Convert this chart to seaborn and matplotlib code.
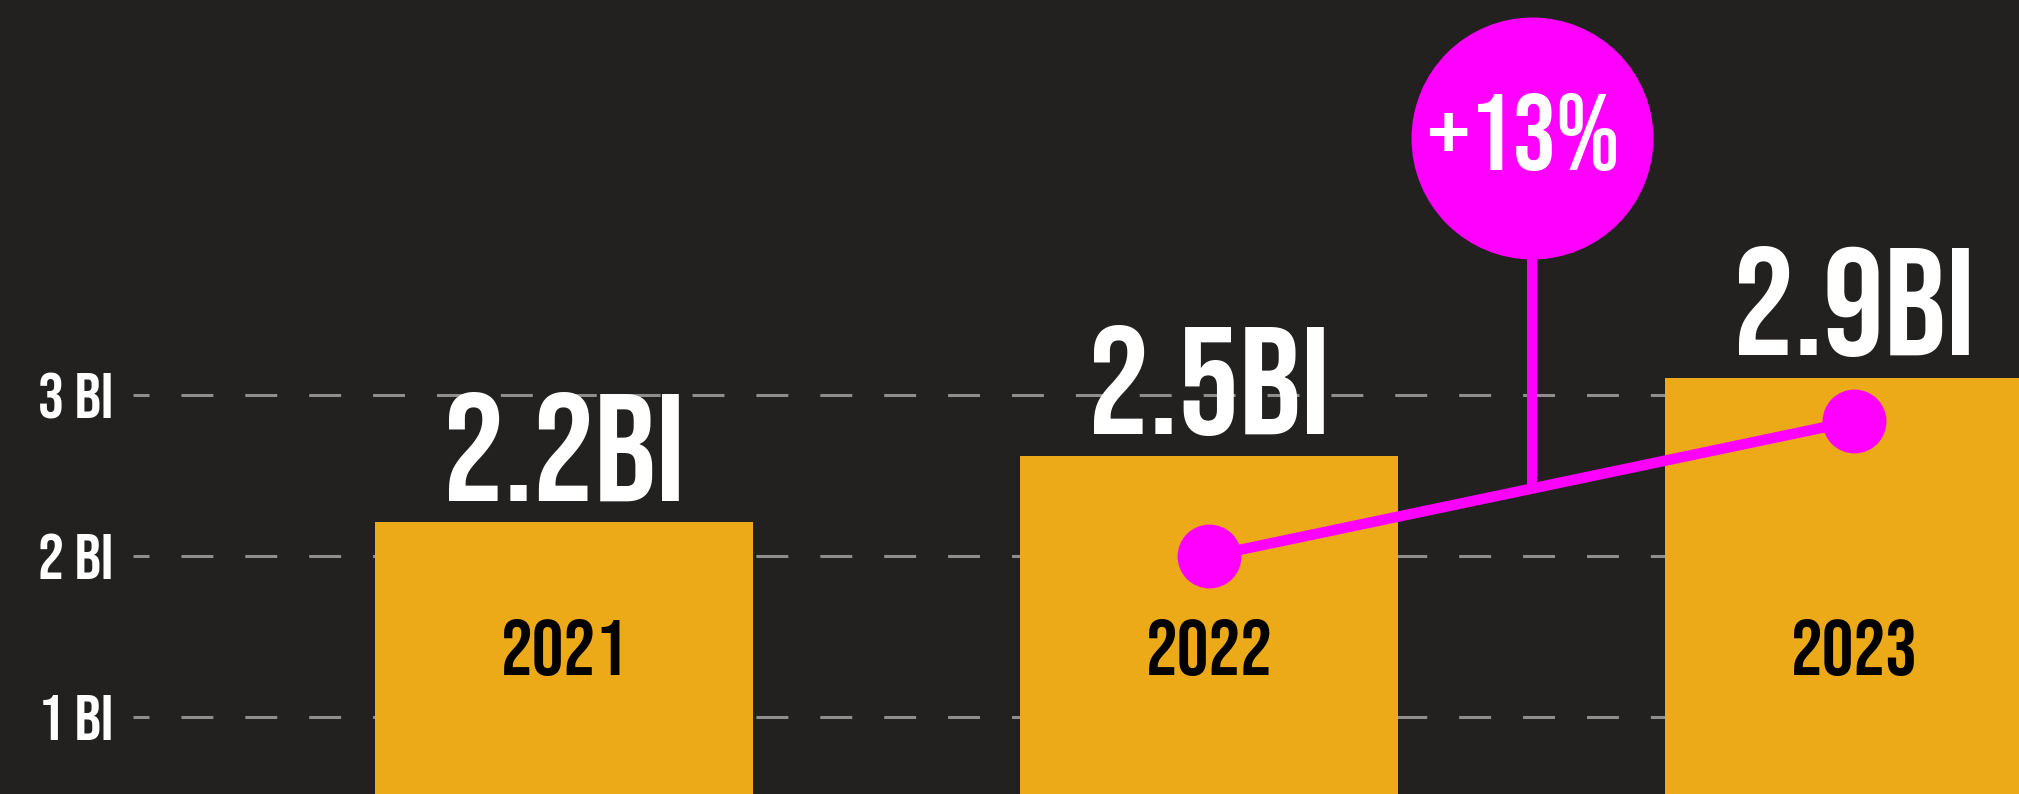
import matplotlib
matplotlib.use("Agg")
import matplotlib.pyplot as plt
import seaborn as sns
from matplotlib import font_manager

# data
years = ["2021", "2022", "2023"]
bar_values = [2.21, 2.62, 3.11]
bar_labels = ["2.2BI", "2.5BI", "2.9BI"]
line_years = [1, 2]
line_values = [2.0, 2.84]
growth_label = "+13%"
tick_values = [1, 2, 3]
tick_labels = ["1 BI", "2 BI", "3 BI"]

BG = "#22211f"
BAR = "#edaa18"
MAGENTA = "#ff00ff"
GRID = "#8e8e8e"

installed = {f.name for f in font_manager.fontManager.ttflist}
font = "DejaVu Sans"
for cand in ["Bebas Neue", "Oswald", "Barlow Condensed", "Archivo Narrow"]:
    if cand in installed:
        font = cand
        break

sns.set_theme(style="dark")
plt.rcParams["font.family"] = [font, "DejaVu Sans"]
plt.rcParams["lines.scale_dashes"] = False

fig = plt.figure(figsize=(20.19, 7.94), dpi=100)
fig.patch.set_facecolor(BG)
ax = fig.add_axes([133 / 2019, 0, 1 - 133 / 2019, 1])
ax.set_facecolor(BG)

sns.barplot(x=years, y=bar_values, color=BAR, saturation=1, width=0.586, ax=ax,
            edgecolor=BAR, linewidth=0, zorder=2)

# dashed grid
for t in tick_values:
    ax.axhline(t, color=GRID, lw=2.2, linestyle=(11.5, (23, 23)), zorder=1)

# value labels above bars
for i, (v, lab) in enumerate(zip(bar_values, bar_labels)):
    ax.annotate(lab, (i, v), xytext=(0, 16), textcoords="offset points",
                ha="center", va="baseline", color="white", fontsize=110, zorder=3)

# year labels inside bars
for i, y in enumerate(years):
    ax.text(i, 0.15, y, transform=ax.get_xaxis_transform(), ha="center", va="baseline",
            color="black", fontsize=57, zorder=3)

# growth line
sns.lineplot(x=line_years, y=line_values, color=MAGENTA, lw=7.6, marker="o",
             markersize=46, markeredgewidth=0, ax=ax, zorder=5)

# bubble with stem
mid_x = sum(line_years) / 2
mid_y = sum(line_values) / 2
bubble_y = 4.6
ax.plot([mid_x, mid_x], [mid_y, bubble_y], color=MAGENTA, lw=7.2, zorder=5,
        solid_capstyle="butt")
ax.scatter([mid_x], [bubble_y], s=30350, color=MAGENTA, linewidths=0, zorder=6)
ax.text(mid_x - 0.014, bubble_y + 0.035, growth_label, ha="center", va="center",
        color="white", fontsize=78, zorder=7)

ax.set_xlim(-0.668, 2.2556)
ax.set_ylim(0.5236, 5.455)
ax.set_yticks(tick_values)
ax.set_yticklabels(tick_labels, color="white", fontsize=47)
ax.tick_params(axis="y", length=0, pad=14)
ax.tick_params(axis="x", length=0, labelbottom=False)
ax.set_xlabel("")
ax.set_ylabel("")
ax.grid(False)
for s in ax.spines.values():
    s.set_visible(False)

fig.savefig("out.png", dpi=100, facecolor=BG)
